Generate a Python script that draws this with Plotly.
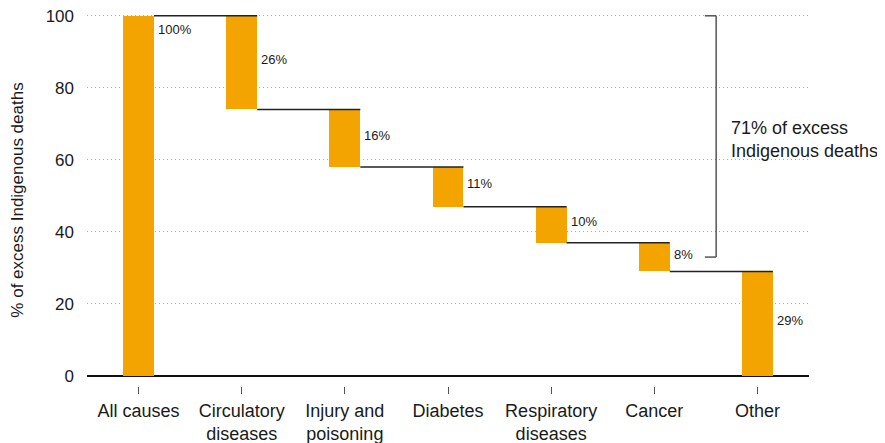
"""Excess Indigenous deaths by cause — waterfall (Plotly)."""

import plotly.graph_objects as go

categories = ["All causes", "Circulatory<br>diseases", "Injury and<br>poisoning",
              "Diabetes", "Respiratory<br>diseases", "Cancer", "Other"]
values = [100, 26, 16, 11, 10, 8, 29]
value_labels = ["100%", "26%", "16%", "11%", "10%", "8%", "29%"]
bracket_text = "71% of excess<br>Indigenous deaths"
bracket_range = [33, 100]

BAR = "#F3A400"
TEXT = "#1a1a1a"
FONT = "Liberation Sans, Arial, Helvetica, sans-serif"
W = 0.3
PAGE_PAD = 8  # default body margin of the html page

# bases: first and last bars sit on zero, the rest step down from the total
bases = [0]
level = values[0]
for v in values[1:-1]:
    level -= v
    bases.append(level)
bases.append(0)
tops = [b + v for b, v in zip(bases, values)]

xs = list(range(len(categories)))

fig = go.Figure()

# connectors: from the right edge of one bar to the right edge of the next
for i in range(len(values) - 1):
    y_lvl = tops[i] if i == 0 else bases[i]
    fig.add_trace(go.Scatter(
        x=[xs[i] + W / 2, xs[i + 1] + W / 2], y=[y_lvl, y_lvl],
        mode="lines", line=dict(color="#222", width=1.5),
        hoverinfo="skip", showlegend=False,
    ))

fig.add_trace(go.Bar(
    x=xs, y=values, base=bases, width=W,
    marker_color=BAR, marker_line_width=0,
    showlegend=False,
))

for i, lab in enumerate(value_labels):
    if i == 0:
        y, anchor, shift = tops[i], "top", -4
    else:
        y, anchor, shift = bases[i] + values[i] / 2, "middle", 3
    fig.add_annotation(
        x=xs[i] + W / 2, y=y, text=lab, showarrow=False,
        xanchor="left", yanchor=anchor, xshift=2, yshift=shift,
        font=dict(size=13, color=TEXT, family=FONT),
    )

# bracket for the five named causes
bx, tip = 5.6, 0.11
lo, hi = bracket_range
for x0, y0, x1, y1 in [(bx, lo, bx, hi), (bx - tip, hi, bx, hi), (bx - tip, lo, bx, lo)]:
    fig.add_shape(type="line", x0=x0, y0=y0, x1=x1, y1=y1, xref="x", yref="y",
                  line=dict(color="#555", width=1.5))
fig.add_annotation(
    x=bx + 0.125, y=(lo + hi) / 2, text=bracket_text, showarrow=False,
    xanchor="left", yanchor="middle", align="left", yshift=-3,
    font=dict(size=18, color=TEXT, family=FONT),
)

fig.update_layout(
    width=885 - PAGE_PAD, height=443 - PAGE_PAD,
    margin=dict(l=87 - PAGE_PAD, r=76, t=14 - PAGE_PAD, b=57),
    paper_bgcolor="white", plot_bgcolor="white",
    font=dict(family=FONT, size=17, color=TEXT),
    bargap=0,
    xaxis=dict(
        range=[-0.5, 6.5], tickmode="array", tickvals=xs, ticktext=categories,
        ticks="outside", ticklen=7, tickwidth=1, tickcolor="#555",
        showgrid=False, showline=False, zeroline=False, automargin=False,
        ticklabelstandoff=1, tickfont=dict(size=18, color=TEXT),
    ),
    yaxis=dict(
        range=[-2.8, 100.5], tickvals=[0, 20, 40, 60, 80, 100],
        showgrid=True, gridcolor="#aaa", griddash="1px,3px", gridwidth=1,
        zeroline=True, zerolinecolor="#111", zerolinewidth=2,
        showline=False, ticks="", ticklabelstandoff=12, automargin=False,
        ticklabeloverflow="allow",
        tickfont=dict(size=17, color=TEXT),
        title=dict(text="% of excess Indigenous deaths", font=dict(size=17, color=TEXT),
                   standoff=22),
    ),
)

fig.write_html("out.html")
